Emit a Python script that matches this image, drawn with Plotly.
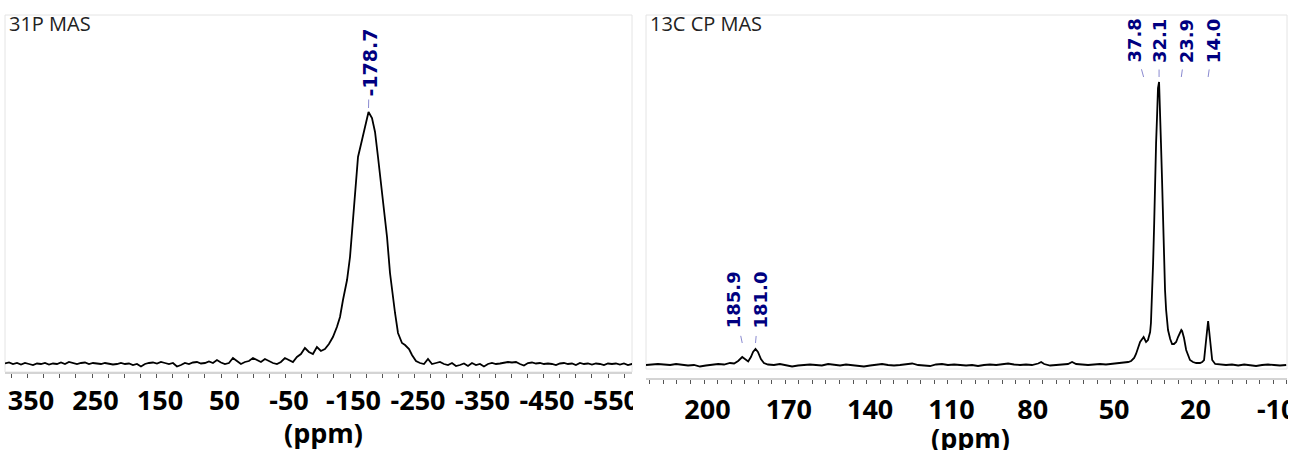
import plotly.graph_objects as go

W, H = 1291, 450

# ---------------- 31P MAS spectrum (ppm, relative intensity) ----------------
p31_ppm = [
    384.9, 378.7, 372.5, 366.3, 360.1, 353.9, 347.7, 341.5, 335.3, 329.1,
    322.9, 316.7, 310.5, 304.3, 298.1, 291.9, 285.7, 279.5, 273.3, 267.1,
    260.9, 254.7, 248.5, 242.3, 236.1, 229.9, 223.7, 217.5, 211.3, 205.1,
    198.9, 192.7, 186.5, 180.3, 174.1, 167.9, 161.7, 155.5, 149.3, 143.1,
    136.9, 130.7, 124.5, 118.3, 112.1, 105.9, 99.7, 93.5, 87.3, 81.1,
    74.9, 68.7, 62.5, 56.3, 50.1, 43.9, 37.7, 31.5, 25.3, 19.1,
    12.9, 6.7, 0.5, -5.7, -11.9, -18.1, -24.3, -30.5, -36.7, -42.9,
    -49.1, -55.3, -61.5, -67.7, -73.9, -80.1, -86.3, -92.5, -98.7, -104.9,
    -111.1, -117.3, -123.5, -129.7,
    -134.5, -139.1, -145.4, -150.0, -153.1, -157.8, -162.4, -168.6, -173.3, -176.4,
    -178.7, -184.1, -188.8, -193.4, -198.1, -201.2, -204.3, -207.4, -212.0, -216.7,
    -219.8, -224.4, -230.6, -235.3, -241.5, -246.1, -252.3, -258.5,
    -264.7, -270.9, -277.1, -283.3, -289.5, -295.7, -301.9, -308.1, -314.3, -320.5,
    -326.7, -332.9, -339.1, -345.3, -351.5, -357.7, -363.9, -370.1, -376.3, -382.5,
    -388.7, -394.9, -401.1, -407.3, -413.5, -419.7, -425.9, -432.1, -438.3, -444.5,
    -450.7, -456.9, -463.1, -469.3, -475.5, -481.7, -487.9, -494.1, -500.3, -506.5,
    -512.7, -518.9, -525.1, -531.3, -537.5, -543.7, -549.9, -556.1, -562.3, -568.5,
    -574.7, -580.9, -587.1, -591.7,
]
p31_int = [
    0.5, 1.5, 0, 1, -0.5, 1, 0, -1, 0.5, 0,
    1, -0.5, 0.5, 0, 1.5, 0, 2, 1, 0, 1,
    1.5, 0, 1, 0.5, 0, 1, 0.5, -0.5, 0, 1,
    0, 0.5, -1, 0, -2.5, 0, 1, 1.5, 0.5, 2,
    1, 0, 1, -2.5, -1, 1, 0, 1.5, 2, 0.5,
    1, 2.5, 1, 4, 1.5, 0, 1, 6, 3, 0,
    2, 3, 6, 4, 2, 5, 3, 1, 0, 2,
    6, 4, 2, 7, 10, 16, 12, 10, 17, 13,
    15, 20, 27, 37,
    47, 64, 84, 107, 134, 177, 207, 224, 237, 244,
    252, 246, 232, 207, 181, 164, 146, 127, 91, 65,
    51, 31, 21, 19, 15, 9, 3, 1,
    0, 5, 0, 1, 2, 0, -1, 1, -2, -1,
    0.5, -2, 1, -1, 0, -2.5, 0, 1, 0, 0.5,
    1, 2, 1.5, 2, 0, -1.5, 1, 1.5, 0.5, 1,
    0, 0.5, 0, -1, 0.5, 1, 0, 0.5, -1, 1,
    0, 0.5, -0.5, 0.5, 0, -1, 0.5, 0, 0.5, -0.5,
    0.5, -1, 0, 0.5,
]

# ---------------- 13C CP MAS spectrum (ppm, relative intensity) ----------------
c13_ppm = [
    221.4, 219.2, 217.0, 214.8, 212.5, 210.3, 208.1, 205.9, 203.7, 201.5,
    199.3, 197.0, 194.8, 192.6, 190.4,
    188.9, 187.4, 185.9, 184.8, 183.7, 182.7, 181.9, 181.0, 180.1, 179.0,
    177.9, 176.4,
    174.2, 172.0, 169.7, 167.5, 165.3, 163.1, 160.9, 158.7, 156.5, 154.2,
    152.0, 149.8, 147.6, 145.4, 143.2, 141.0, 138.7, 136.5, 134.3, 132.1,
    129.9, 127.7, 125.5, 123.2, 121.0, 118.8, 116.6, 114.4, 112.2, 110.0,
    107.7, 105.5, 103.3, 101.1, 98.9, 96.7, 94.5, 92.2, 90.0, 87.8,
    85.6, 83.4, 81.2, 79.0, 76.7, 75.6, 74.5, 72.3, 70.1, 67.9,
    65.7, 64.2, 62.7, 60.5, 58.3, 56.1, 53.9, 51.7, 49.4, 47.2,
    45.0,
    43.5, 42.4, 41.3, 40.6, 39.8, 39.1, 37.8, 36.9, 36.2, 35.4,
    35.1, 34.7, 34.3, 33.9, 33.6, 33.2, 32.8, 32.5, 32.1, 31.7,
    31.4, 31.0, 30.6, 30.3, 29.9, 29.5, 29.1, 28.8, 28.0, 27.3,
    26.6, 25.8, 25.1, 24.4, 23.9, 23.6, 22.9, 22.1, 21.4, 20.7,
    19.6, 18.4, 17.0, 16.2, 15.5, 14.8, 14.4, 14.0, 13.6, 13.3,
    12.5, 11.4,
    9.6, 7.4, 5.2, 2.9, 0.7, -1.5, -3.7, -5.9, -8.1, -10.3,
    -12.5, -14.8,
]
c13_int = [
    0, 0.5, 1, 0.5, 0, 1, 0.5, -0.5, 0, -1.5,
    -0.5, 0.5, 1, 0.5, 2,
    1.5, 4, 8, 6, 3.5, 8, 13, 16, 13, 6,
    2, 0.5,
    0, 1, 0, -1.5, -0.5, 0, 0.5, 0, -0.5, 1,
    0, -0.5, 0.5, 0, -0.5, -1.5, -0.5, 0.5, 1, 0,
    -0.5, 0, 0.5, 1.5, 0, -0.5, -1, 0.5, 1, 0,
    0.5, 0, -0.5, 0, -1, 0, 0.5, 0, 0.5, 1.5,
    0.5, 0, 0.5, 0, 1.5, 3, 1, -0.5, 0, 0.5,
    1, 3, 1, 0.5, 0, 0.5, 1, 0.5, 1, 2,
    2.5,
    3, 4, 7, 11, 17, 23, 28, 23, 25, 33,
    42, 68, 102, 142, 185, 222, 252, 277, 283, 255,
    222, 185, 142, 102, 75, 55, 44, 35, 26, 21,
    21, 23, 28, 33, 35, 34, 27, 15, 9, 5,
    3, 2, 2, 3, 5, 20, 34, 44, 34, 20,
    5, 1,
    0.5, 0, 0.5, -0.5, 0.5, 0, -1, 0, 0.5, 0,
    -0.5, 0,
]

# ---------------- labels / ticks ----------------
p31_title = "31P MAS"
c13_title = "13C CP MAS"
axis_title = "(ppm)"

p31_peaks = [-178.7]
p31_peak_text = ["-178.7"]
c13_peaks_high = [37.8, 32.1, 23.9, 14.0]
c13_peaks_high_text = ["37.8", "32.1", "23.9", "14.0"]
c13_peaks_low = [185.9, 181.0]
c13_peaks_low_text = ["185.9", "181.0"]

p31_tickvals = [350, 250, 150, 50, -50, -150, -250, -350, -450, -550]
p31_ticktext = ["350", "250", "150", "50", "-50", "-150", "-250", "-350", "-450", "-550"]
c13_tickvals = [200, 170, 140, 110, 80, 50, 20, -10]
c13_ticktext = ["200", "170", "140", "110", "80", "50", "20", "-10"]

# ---------------- figure ----------------
def px_x(p):
    return p / W

def px_y(p):
    return 1 - p / H

NBSP = "\u00a0"
tickfont = dict(family="Open Sans", size=27, color="black", weight="bold")
line_style = dict(color="black", width=1.8)

fig = go.Figure()
fig.add_trace(go.Scatter(x=p31_ppm, y=p31_int, mode="lines", line=line_style,
                         xaxis="x", yaxis="y", showlegend=False, hoverinfo="skip"))
fig.add_trace(go.Scatter(x=c13_ppm, y=c13_int, mode="lines", line=line_style,
                         xaxis="x2", yaxis="y2", showlegend=False, hoverinfo="skip"))

common_x = dict(
    tickmode="array", ticks="outside", ticklen=4, tickwidth=1, tickcolor="#555555",
    showline=True, linecolor="#d4d4d4", linewidth=2, showgrid=False, zeroline=False,
    tickfont=tickfont, tickangle=0, fixedrange=True, automargin=False,
    ticklabeloverflow="allow",
)

fig.update_layout(
    width=W, height=H, autosize=False,
    margin=dict(l=0, r=0, t=0, b=0),
    paper_bgcolor="white", plot_bgcolor="white",
    xaxis=dict(domain=[px_x(5), px_x(632)], range=[384.9, -587.2], anchor="y",
               tickvals=p31_tickvals, ticktext=[NBSP + t for t in p31_ticktext],
               minor=dict(tick0=0, dtick=25, ticks="outside", ticklen=4, tickwidth=1,
                          tickcolor="#555555", showgrid=False),
               **common_x),
    yaxis=dict(domain=[px_y(372), px_y(15)], range=[-8, 349], anchor="x",
               visible=False, fixedrange=True),
    xaxis2=dict(domain=[px_x(646), px_x(1287)], range=[221.4, -15.1], anchor="y2",
                tickvals=c13_tickvals, ticktext=[NBSP + t for t in c13_ticktext],
                ticklabelstandoff=3,
                minor=dict(tick0=0, dtick=5, ticks="outside", ticklen=4, tickwidth=1,
                           tickcolor="#555555", showgrid=False),
                **common_x),
    yaxis2=dict(domain=[px_y(378), px_y(15)], range=[-13, 350], anchor="x2",
                visible=False, fixedrange=True),
)

shapes = [
    # panel frames
    dict(type="rect", xref="paper", yref="paper", x0=px_x(5), x1=px_x(632),
         y0=px_y(372), y1=px_y(15), line=dict(color="#e4e4e4", width=1), layer="below"),
    dict(type="rect", xref="paper", yref="paper", x0=px_x(646), x1=px_x(1287),
         y0=px_y(369), y1=px_y(15), line=dict(color="#e4e4e4", width=1), layer="below"),
    # clip overflowing tick labels at the panel edges
    dict(type="rect", xref="paper", yref="paper", x0=px_x(633), x1=px_x(645),
         y0=px_y(430), y1=px_y(376), fillcolor="white", line=dict(width=0), layer="above"),
    dict(type="rect", xref="paper", yref="paper", x0=px_x(1288), x1=1,
         y0=px_y(430), y1=px_y(380), fillcolor="white", line=dict(width=0), layer="above"),
]
fig.update_layout(shapes=shapes)

ann = []
title_font = dict(family="Open Sans", size=20, color="#222222")
ann.append(dict(text=p31_title, xref="paper", yref="paper", x=px_x(7), y=px_y(23),
                xanchor="left", yanchor="middle", showarrow=False, font=title_font))
ann.append(dict(text=c13_title, xref="paper", yref="paper", x=px_x(648), y=px_y(23),
                xanchor="left", yanchor="middle", showarrow=False, font=title_font))
ppm_font = dict(family="Open Sans", size=27, color="black", weight="bold")
ann.append(dict(text=axis_title, xref="paper", yref="paper", x=px_x(323), y=px_y(432),
                xanchor="center", yanchor="middle", showarrow=False, font=ppm_font))
ann.append(dict(text=axis_title, xref="paper", yref="paper", x=px_x(970), y=px_y(437),
                xanchor="center", yanchor="middle", showarrow=False, font=ppm_font))

arrow_base = dict(showarrow=True, arrowhead=0, arrowwidth=1, arrowcolor="#8a8ad0",
                  textangle=-90, borderpad=0)
font_left = dict(family="DejaVu Sans", size=19, color="#000080", weight="bold")
font_right = dict(family="DejaVu Sans", size=18, color="#000080", weight="bold")

for v, t in zip(p31_peaks, p31_peak_text):
    ann.append(dict(text=t, xref="x", yref="paper", x=v, y=px_y(108),
                    ax=1, ay=-45, startstandoff=2, font=font_left, **arrow_base))
for v, t, dx in zip(c13_peaks_high, c13_peaks_high_text, [-10, 0, 5, 5]):
    ann.append(dict(text=t, xref="x2", yref="paper", x=v, y=px_y(77),
                    ax=dx, ay=-36, startstandoff=6, font=font_right, **arrow_base))
for v, t, dx in zip(c13_peaks_low, c13_peaks_low_text, [-9, 4]):
    ann.append(dict(text=t, xref="x2", yref="paper", x=v, y=px_y(343),
                    ax=dx, ay=-43, startstandoff=7, font=font_right, **arrow_base))
fig.update_layout(annotations=ann)

fig.write_html(
    "out.html",
    config={"responsive": False, "displayModeBar": False},
    post_script="document.body.style.margin='0';",
)
